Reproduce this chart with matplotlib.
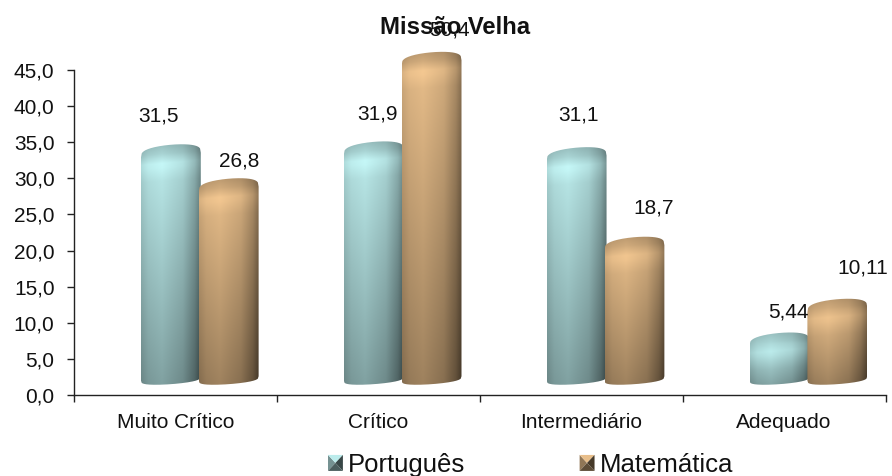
import numpy as np
from matplotlib import pyplot as plt
from matplotlib.legend_handler import HandlerPatch
from matplotlib.patches import Patch, Polygon
from matplotlib.path import Path

plt.rcParams['font.family'] = ['Liberation Sans', 'DejaVu Sans']

categories = ['Muito Crítico', 'Crítico', 'Intermediário', 'Adequado']
portugues = [31.5, 31.9, 31.1, 5.44]
matematica = [26.8, 50.4, 18.7, 10.11]
portugues_labels = ['31,5', '31,9', '31,1', '5,44']
matematica_labels = ['26,8', '50,4', '18,7', '10,11']
y_ticks = [0, 5, 10, 15, 20, 25, 30, 35, 40, 45]
y_tick_labels = ['0,0', '5,0', '10,0', '15,0', '20,0', '25,0', '30,0', '35,0', '40,0', '45,0']

# label offsets from the top of each bar, in pixels
portugues_off = [(-12, 52), (4, 51), (2, 55), (9, 44)]
matematica_off = [(10, 40), (18, 1), (19, 52), (25, 54)]

BLUE = np.array([188, 236, 236]) / 255
TAN = np.array([232, 190, 138]) / 255
BAR_W = 0.295


def cylinder(ax, x0, value, color, z):
    # the 3d bars are gradient images clipped to a cylinder outline
    yc = min(value, ax.get_ylim()[1] - 0.7) + 1.7
    b_top, b_bot = 1.45, 0.8
    tilt_top, tilt_bot = 0.7, 0.6
    y_bot = 2.3

    u = np.linspace(0, 1, 80)
    arc = np.sqrt(np.clip(1 - (2*u - 1)**2, 0, 1))
    top = yc + tilt_top*(u - 0.5) + b_top*arc**0.6
    bot = y_bot + tilt_bot*(u - 0.5) - b_bot*arc**0.6
    xs = np.r_[x0 + u*BAR_W, x0 + u[::-1]*BAR_W]
    ys = np.r_[top, bot[::-1]]
    outline = Path(np.c_[xs, ys])

    y_lo, y_hi = 1.0, yc + 2.5
    U, Y = np.meshgrid(np.linspace(0, 1, 120), np.linspace(y_hi, y_lo, 500))
    # light falls from the left, a bit inside the edge
    side = np.interp(U, [0, 0.12, 0.35, 0.7, 0.9, 1], [0.86, 0.95, 1.0, 0.88, 0.68, 0.5])
    side = side**np.interp(Y, [y_lo, yc], [1.25, 0.75])
    fall = np.interp(Y, [y_lo, yc], [0.68, 1.0])
    d = (Y - (yc + tilt_top*(U - 0.5))) / b_top
    cap = np.interp(d, [-2.4, -1.1, -0.7, 0.2, 1], [1.0, 1.06, 1.06, 0.9, 0.82])
    shade = side*fall*cap
    rgb = np.clip(shade[..., None]*color, 0, 1)

    im = ax.imshow(rgb, extent=(x0, x0 + BAR_W, y_lo, y_hi), aspect='auto',
                   interpolation='bilinear', zorder=z)
    im.set_clip_box(ax.figure.bbox)
    im.set_clip_path(outline, ax.transData)


class HandlerBevel(HandlerPatch):
    # legend key: small square split in four shaded triangles
    def create_artists(self, legend, orig_handle, xdescent, ydescent, width, height, fontsize, trans):
        c = np.array(orig_handle.get_facecolor()[:3])
        x0, y0 = -xdescent, -ydescent
        x1, y1 = x0 + width, y0 + height
        mx, my = (x0 + x1)/2, (y0 + y1)/2
        tris = [([(x0, y0), (x0, y1), (mx, my)], 0.62),
                ([(x0, y1), (x1, y1), (mx, my)], 1.0),
                ([(x1, y1), (x1, y0), (mx, my)], 0.3),
                ([(x1, y0), (x0, y0), (mx, my)], 0.4)]
        return [Polygon(p, closed=True, facecolor=np.clip(c*s, 0, 1), edgecolor='none', transform=trans)
                for p, s in tris]


fig = plt.figure(figsize=(8.92, 4.76), dpi=100)
ax = fig.add_axes([74/892, 1 - 395/476, (885.5 - 74)/892, (395 - 70)/476])
ax.set_xlim(0, 4)
ax.set_ylim(0, 45)
ax.set_autoscale_on(False)

for i in range(len(categories)):
    cylinder(ax, i + 0.33, portugues[i], BLUE, 2 + i*0.1)
    cylinder(ax, i + 0.615, matematica[i], TAN, 3 + i*0.1)
    for x0, val, txt, off in [(i + 0.33, portugues[i], portugues_labels[i], portugues_off[i]),
                              (i + 0.615, matematica[i], matematica_labels[i], matematica_off[i])]:
        ax.annotate(txt, xy=(x0 + BAR_W/2, val), xytext=off, textcoords='offset pixels',
                    ha='center', va='center', fontsize=15, color='#111111',
                    annotation_clip=False, zorder=6)

for s in ['top', 'right']:
    ax.spines[s].set_visible(False)
for s in ['left', 'bottom']:
    ax.spines[s].set_color('#222222')
    ax.spines[s].set_linewidth(1.0)

ax.set_yticks(y_ticks)
ax.set_yticklabels(y_tick_labels)
ax.set_xticks(range(len(categories) + 1))
ax.set_xticklabels([])
ax.set_xticks(np.arange(len(categories)) + 0.5, categories, minor=True)
ax.tick_params(axis='y', length=5, width=1, color='#222222', labelsize=15, pad=9, labelcolor='#111111')
ax.tick_params(axis='x', which='major', length=5, width=1, color='#222222')
ax.tick_params(axis='x', which='minor', length=0, labelsize=15, pad=13, labelcolor='#111111')

fig.text(455/892, 1 - 27/476, 'Missão Velha', ha='center', va='center', fontsize=17.2,
         fontweight='bold', color='#111111', zorder=1)

handles = [Patch(facecolor=BLUE, label='Português'), Patch(facecolor=TAN, label='Matemática')]
fig.legend(handles=handles, handler_map={Patch: HandlerBevel()}, loc='center left',
           bbox_to_anchor=(328/892, 1 - 465/476), ncol=2, frameon=False, fontsize=18.5,
           handlelength=0.58, handleheight=0.58, handletextpad=0.2, columnspacing=4.45,
           borderpad=0, borderaxespad=0, labelcolor='#111111')

plt.savefig('out.png', dpi=100)
